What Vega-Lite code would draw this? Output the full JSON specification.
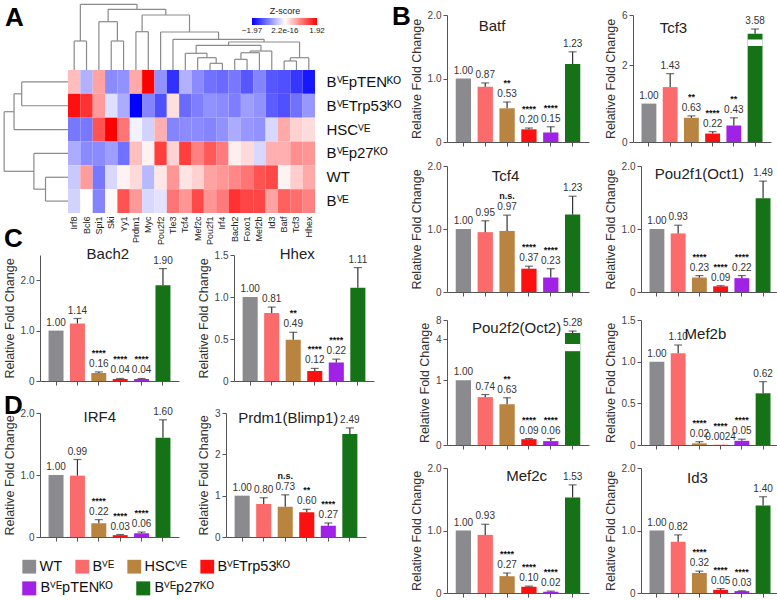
{
"$schema":"https://vega.github.io/schema/vega-lite/v6.json",
"padding":{"left":3,"top":3,"right":2,"bottom":2},
"spacing":-9,
"config":{"view":{"stroke":null},"font":"Liberation Sans",
"axis":{"grid":false,"labelFont":"Liberation Sans","titleFont":"Liberation Sans","labelFontSize":10,"labelColor":"#444","titleFontSize":12.5,"titleFontWeight":"normal","titleColor":"#333","domainColor":"#555","tickColor":"#555"},
"legend":{"labelFont":"Liberation Sans","titleFont":"Liberation Sans"},
"title":{"font":"Liberation Sans"},
"text":{"font":"Liberation Sans"}},
"datasets":{
"heat":[
{"s":"BⱽᴱpTENᴷᴼ","gene":"Irf8","z":0.5},{"s":"BⱽᴱpTENᴷᴼ","gene":"Bcl6","z":-0.6},{"s":"BⱽᴱpTENᴷᴼ","gene":"Spi1","z":0.7},{"s":"BⱽᴱpTENᴷᴼ","gene":"Ski","z":-0.9},{"s":"BⱽᴱpTENᴷᴼ","gene":"Yy1","z":-0.85},{"s":"BⱽᴱpTENᴷᴼ","gene":"Prdm1","z":0.65},{"s":"BⱽᴱpTENᴷᴼ","gene":"Myc","z":1.92},{"s":"BⱽᴱpTENᴷᴼ","gene":"Pou2f2","z":-0.85},{"s":"BⱽᴱpTENᴷᴼ","gene":"Tle3","z":-1.6},{"s":"BⱽᴱpTENᴷᴼ","gene":"Tcf4","z":-0.6},{"s":"BⱽᴱpTENᴷᴼ","gene":"Mef2c","z":-0.9},{"s":"BⱽᴱpTENᴷᴼ","gene":"Pou2f1","z":-1.1},{"s":"BⱽᴱpTENᴷᴼ","gene":"Irf4","z":-1.15},{"s":"BⱽᴱpTENᴷᴼ","gene":"Bach2","z":-1.05},{"s":"BⱽᴱpTENᴷᴼ","gene":"Foxo1","z":-1.3},{"s":"BⱽᴱpTENᴷᴼ","gene":"Mef2b","z":-0.95},{"s":"BⱽᴱpTENᴷᴼ","gene":"Id3","z":-1.3},{"s":"BⱽᴱpTENᴷᴼ","gene":"Batf","z":-1.35},{"s":"BⱽᴱpTENᴷᴼ","gene":"Tcf3","z":-1.55},{"s":"BⱽᴱpTENᴷᴼ","gene":"Hhex","z":-1.8},
{"s":"BⱽᴱTrp53ᴷᴼ","gene":"Irf8","z":1.8},{"s":"BⱽᴱTrp53ᴷᴼ","gene":"Bcl6","z":1.55},{"s":"BⱽᴱTrp53ᴷᴼ","gene":"Spi1","z":0.75},{"s":"BⱽᴱTrp53ᴷᴼ","gene":"Ski","z":-0.25},{"s":"BⱽᴱTrp53ᴷᴼ","gene":"Yy1","z":-0.65},{"s":"BⱽᴱTrp53ᴷᴼ","gene":"Prdm1","z":-1.97},{"s":"BⱽᴱTrp53ᴷᴼ","gene":"Myc","z":-0.95},{"s":"BⱽᴱTrp53ᴷᴼ","gene":"Pou2f2","z":-1.35},{"s":"BⱽᴱTrp53ᴷᴼ","gene":"Tle3","z":0.25},{"s":"BⱽᴱTrp53ᴷᴼ","gene":"Tcf4","z":-1.15},{"s":"BⱽᴱTrp53ᴷᴼ","gene":"Mef2c","z":-1.0},{"s":"BⱽᴱTrp53ᴷᴼ","gene":"Pou2f1","z":-0.85},{"s":"BⱽᴱTrp53ᴷᴼ","gene":"Irf4","z":-0.9},{"s":"BⱽᴱTrp53ᴷᴼ","gene":"Bach2","z":-1.0},{"s":"BⱽᴱTrp53ᴷᴼ","gene":"Foxo1","z":-0.75},{"s":"BⱽᴱTrp53ᴷᴼ","gene":"Mef2b","z":-0.85},{"s":"BⱽᴱTrp53ᴷᴼ","gene":"Id3","z":-1.25},{"s":"BⱽᴱTrp53ᴷᴼ","gene":"Batf","z":-1.35},{"s":"BⱽᴱTrp53ᴷᴼ","gene":"Tcf3","z":-1.1},{"s":"BⱽᴱTrp53ᴷᴼ","gene":"Hhex","z":-0.8},
{"s":"HSCⱽᴱ","gene":"Irf8","z":-1.05},{"s":"HSCⱽᴱ","gene":"Bcl6","z":-1.05},{"s":"HSCⱽᴱ","gene":"Spi1","z":1.3},{"s":"HSCⱽᴱ","gene":"Ski","z":1.92},{"s":"HSCⱽᴱ","gene":"Yy1","z":1.05},{"s":"HSCⱽᴱ","gene":"Prdm1","z":-0.1},{"s":"HSCⱽᴱ","gene":"Myc","z":-0.35},{"s":"HSCⱽᴱ","gene":"Pou2f2","z":0.6},{"s":"HSCⱽᴱ","gene":"Tle3","z":-0.95},{"s":"HSCⱽᴱ","gene":"Tcf4","z":-0.9},{"s":"HSCⱽᴱ","gene":"Mef2c","z":-0.9},{"s":"HSCⱽᴱ","gene":"Pou2f1","z":-0.95},{"s":"HSCⱽᴱ","gene":"Irf4","z":-0.85},{"s":"HSCⱽᴱ","gene":"Bach2","z":-0.65},{"s":"HSCⱽᴱ","gene":"Foxo1","z":-0.8},{"s":"HSCⱽᴱ","gene":"Mef2b","z":-0.85},{"s":"HSCⱽᴱ","gene":"Id3","z":-0.3},{"s":"HSCⱽᴱ","gene":"Batf","z":0.65},{"s":"HSCⱽᴱ","gene":"Tcf3","z":0.35},{"s":"HSCⱽᴱ","gene":"Hhex","z":0.26},
{"s":"Bⱽᴱp27ᴷᴼ","gene":"Irf8","z":-0.65},{"s":"Bⱽᴱp27ᴷᴼ","gene":"Bcl6","z":-0.9},{"s":"Bⱽᴱp27ᴷᴼ","gene":"Spi1","z":-0.9},{"s":"Bⱽᴱp27ᴷᴼ","gene":"Ski","z":-0.75},{"s":"Bⱽᴱp27ᴷᴼ","gene":"Yy1","z":-1.1},{"s":"Bⱽᴱp27ᴷᴼ","gene":"Prdm1","z":0.48},{"s":"Bⱽᴱp27ᴷᴼ","gene":"Myc","z":0.1},{"s":"Bⱽᴱp27ᴷᴼ","gene":"Pou2f2","z":1.45},{"s":"Bⱽᴱp27ᴷᴼ","gene":"Tle3","z":0.35},{"s":"Bⱽᴱp27ᴷᴼ","gene":"Tcf4","z":1.45},{"s":"Bⱽᴱp27ᴷᴼ","gene":"Mef2c","z":0.95},{"s":"Bⱽᴱp27ᴷᴼ","gene":"Pou2f1","z":1.25},{"s":"Bⱽᴱp27ᴷᴼ","gene":"Irf4","z":1.0},{"s":"Bⱽᴱp27ᴷᴼ","gene":"Bach2","z":0.13},{"s":"Bⱽᴱp27ᴷᴼ","gene":"Foxo1","z":0.28},{"s":"Bⱽᴱp27ᴷᴼ","gene":"Mef2b","z":-0.3},{"s":"Bⱽᴱp27ᴷᴼ","gene":"Id3","z":0.6},{"s":"Bⱽᴱp27ᴷᴼ","gene":"Batf","z":0.6},{"s":"Bⱽᴱp27ᴷᴼ","gene":"Tcf3","z":0.85},{"s":"Bⱽᴱp27ᴷᴼ","gene":"Hhex","z":0.8},
{"s":"WT","gene":"Irf8","z":-0.42},{"s":"WT","gene":"Bcl6","z":0.75},{"s":"WT","gene":"Spi1","z":-1.05},{"s":"WT","gene":"Ski","z":-0.3},{"s":"WT","gene":"Yy1","z":0.1},{"s":"WT","gene":"Prdm1","z":0.28},{"s":"WT","gene":"Myc","z":-0.55},{"s":"WT","gene":"Pou2f2","z":0.18},{"s":"WT","gene":"Tle3","z":0.8},{"s":"WT","gene":"Tcf4","z":0.2},{"s":"WT","gene":"Mef2c","z":0.35},{"s":"WT","gene":"Pou2f1","z":0.7},{"s":"WT","gene":"Irf4","z":0.78},{"s":"WT","gene":"Bach2","z":0.9},{"s":"WT","gene":"Foxo1","z":1.05},{"s":"WT","gene":"Mef2b","z":1.3},{"s":"WT","gene":"Id3","z":1.37},{"s":"WT","gene":"Batf","z":0.1},{"s":"WT","gene":"Tcf3","z":0.38},{"s":"WT","gene":"Hhex","z":0.65},
{"s":"Bⱽᴱ","gene":"Irf8","z":-0.35},{"s":"Bⱽᴱ","gene":"Bcl6","z":0.0},{"s":"Bⱽᴱ","gene":"Spi1","z":-0.95},{"s":"Bⱽᴱ","gene":"Ski","z":0.05},{"s":"Bⱽᴱ","gene":"Yy1","z":1.3},{"s":"Bⱽᴱ","gene":"Prdm1","z":0.77},{"s":"Bⱽᴱ","gene":"Myc","z":-0.3},{"s":"Bⱽᴱ","gene":"Pou2f2","z":-0.22},{"s":"Bⱽᴱ","gene":"Tle3","z":1.05},{"s":"Bⱽᴱ","gene":"Tcf4","z":0.8},{"s":"Bⱽᴱ","gene":"Mef2c","z":1.37},{"s":"Bⱽᴱ","gene":"Pou2f1","z":0.8},{"s":"Bⱽᴱ","gene":"Irf4","z":1.0},{"s":"Bⱽᴱ","gene":"Bach2","z":1.55},{"s":"Bⱽᴱ","gene":"Foxo1","z":1.4},{"s":"Bⱽᴱ","gene":"Mef2b","z":1.4},{"s":"Bⱽᴱ","gene":"Id3","z":0.7},{"s":"Bⱽᴱ","gene":"Batf","z":1.2},{"s":"Bⱽᴱ","gene":"Tcf3","z":1.1},{"s":"Bⱽᴱ","gene":"Hhex","z":0.95}
],
"topd":[
{"xl":0.5,"yl":0,"xr":1.5,"yr":0,"h":-1.217},
{"xl":3.5,"yl":0,"xr":4.5,"yr":0,"h":-1.217},
{"xl":2.5,"yl":0,"xr":4.0,"yr":-1.217,"h":-2.027},
{"xl":5.5,"yl":0,"xr":6.5,"yr":0,"h":-1.607},
{"xl":11.5,"yl":0,"xr":12.5,"yr":0,"h":-0.281},
{"xl":10.5,"yl":0,"xr":12.0,"yr":-0.281,"h":-0.516},
{"xl":9.5,"yl":0,"xr":11.25,"yr":-0.516,"h":-0.701},
{"xl":13.5,"yl":0,"xr":14.5,"yr":0,"h":-0.449},
{"xl":14.0,"yl":-0.449,"xr":15.5,"yr":0,"h":-0.726},
{"xl":14.75,"yl":-0.726,"xr":16.5,"yr":0,"h":-0.797},
{"xl":10.375,"yl":-0.701,"xr":15.625,"yr":-0.797,"h":-1.036},
{"xl":17.5,"yl":0,"xr":18.5,"yr":0,"h":-0.378},
{"xl":18.0,"yl":-0.378,"xr":19.5,"yr":0,"h":-0.516},
{"xl":13.0,"yl":-1.036,"xr":18.75,"yr":-0.516,"h":-1.175},
{"xl":8.5,"yl":0,"xr":15.875,"yr":-1.175,"h":-1.288},
{"xl":7.5,"yl":0,"xr":12.19,"yr":-1.288,"h":-1.595},
{"xl":6.0,"yl":-1.607,"xr":9.84,"yr":-1.595,"h":-2.308},
{"xl":3.25,"yl":-2.027,"xr":7.92,"yr":-2.308,"h":-2.547},
{"xl":1.0,"yl":-1.217,"xr":5.585,"yr":-2.547,"h":-2.757}
],
"leftd":[
{"ya":0.5,"da":0,"yb":1.5,"db":0,"d":-3.75},
{"ya":1.0,"da":-3.75,"yb":2.5,"db":0,"d":-4.37},
{"ya":4.5,"da":0,"yb":5.5,"db":0,"d":-1.82},
{"ya":3.5,"da":0,"yb":5.0,"db":-1.82,"d":-2.76},
{"ya":1.75,"da":-4.37,"yb":4.25,"db":-2.76,"d":-5.17}
],
"bars":[
{"gene":"Batf","g":"WT","v":1,"hi":1,"lab":"1.00","sig":""},
{"gene":"Batf","g":"Bⱽᴱ","v":0.87,"hi":0.93,"lab":"0.87","sig":""},
{"gene":"Batf","g":"HSCⱽᴱ","v":0.53,"hi":0.63,"lab":"0.53","sig":"**"},
{"gene":"Batf","g":"BⱽᴱTrp53ᴷᴼ","v":0.2,"hi":0.22,"lab":"0.20","sig":"****"},
{"gene":"Batf","g":"BⱽᴱpTENᴷᴼ","v":0.15,"hi":0.24,"lab":"0.15","sig":"****"},
{"gene":"Batf","g":"Bⱽᴱp27ᴷᴼ","v":1.23,"hi":1.42,"lab":"1.23","sig":""},
{"gene":"Tcf3","g":"WT","v":1,"hi":1,"lab":"1.00","sig":""},
{"gene":"Tcf3","g":"Bⱽᴱ","v":1.43,"hi":1.78,"lab":"1.43","sig":""},
{"gene":"Tcf3","g":"HSCⱽᴱ","v":0.63,"hi":0.68,"lab":"0.63","sig":"**"},
{"gene":"Tcf3","g":"BⱽᴱTrp53ᴷᴼ","v":0.22,"hi":0.27,"lab":"0.22","sig":"****"},
{"gene":"Tcf3","g":"BⱽᴱpTENᴷᴼ","v":0.43,"hi":0.63,"lab":"0.43","sig":"**"},
{"gene":"Tcf3","g":"Bⱽᴱp27ᴷᴼ","v":3.58,"hi":4.2,"lab":"3.58","sig":""},
{"gene":"Tcf4","g":"WT","v":1,"hi":1,"lab":"1.00","sig":""},
{"gene":"Tcf4","g":"Bⱽᴱ","v":0.95,"hi":1.13,"lab":"0.95","sig":""},
{"gene":"Tcf4","g":"HSCⱽᴱ","v":0.97,"hi":1.22,"lab":"0.97","sig":"n.s."},
{"gene":"Tcf4","g":"BⱽᴱTrp53ᴷᴼ","v":0.37,"hi":0.41,"lab":"0.37","sig":"****"},
{"gene":"Tcf4","g":"BⱽᴱpTENᴷᴼ","v":0.23,"hi":0.37,"lab":"0.23","sig":"****"},
{"gene":"Tcf4","g":"Bⱽᴱp27ᴷᴼ","v":1.23,"hi":1.52,"lab":"1.23","sig":""},
{"gene":"Pou2f1","g":"WT","v":1,"hi":1,"lab":"1.00","sig":""},
{"gene":"Pou2f1","g":"Bⱽᴱ","v":0.93,"hi":1.06,"lab":"0.93","sig":""},
{"gene":"Pou2f1","g":"HSCⱽᴱ","v":0.23,"hi":0.26,"lab":"0.23","sig":"****"},
{"gene":"Pou2f1","g":"BⱽᴱTrp53ᴷᴼ","v":0.09,"hi":0.1,"lab":"0.09","sig":"****"},
{"gene":"Pou2f1","g":"BⱽᴱpTENᴷᴼ","v":0.22,"hi":0.26,"lab":"0.22","sig":"****"},
{"gene":"Pou2f1","g":"Bⱽᴱp27ᴷᴼ","v":1.49,"hi":1.76,"lab":"1.49","sig":""},
{"gene":"Pou2f2","g":"WT","v":1,"hi":1,"lab":"1.00","sig":""},
{"gene":"Pou2f2","g":"Bⱽᴱ","v":0.74,"hi":0.78,"lab":"0.74","sig":""},
{"gene":"Pou2f2","g":"HSCⱽᴱ","v":0.63,"hi":0.73,"lab":"0.63","sig":"**"},
{"gene":"Pou2f2","g":"BⱽᴱTrp53ᴷᴼ","v":0.09,"hi":0.1,"lab":"0.09","sig":"****"},
{"gene":"Pou2f2","g":"BⱽᴱpTENᴷᴼ","v":0.06,"hi":0.1,"lab":"0.06","sig":"****"},
{"gene":"Pou2f2","g":"Bⱽᴱp27ᴷᴼ","v":5.28,"hi":5.7,"lab":"5.28","sig":""},
{"gene":"Mef2b","g":"WT","v":1,"hi":1,"lab":"1.00","sig":""},
{"gene":"Mef2b","g":"Bⱽᴱ","v":1.1,"hi":1.2,"lab":"1.10","sig":""},
{"gene":"Mef2b","g":"HSCⱽᴱ","v":0.02,"hi":0.04,"lab":"0.02","sig":"****"},
{"gene":"Mef2b","g":"BⱽᴱTrp53ᴷᴼ","v":0.0024,"hi":0.0024,"lab":"0.0024","sig":"****"},
{"gene":"Mef2b","g":"BⱽᴱpTENᴷᴼ","v":0.05,"hi":0.07,"lab":"0.05","sig":"****"},
{"gene":"Mef2b","g":"Bⱽᴱp27ᴷᴼ","v":0.62,"hi":0.76,"lab":"0.62","sig":""},
{"gene":"Mef2c","g":"WT","v":1,"hi":1,"lab":"1.00","sig":""},
{"gene":"Mef2c","g":"Bⱽᴱ","v":0.93,"hi":1.1,"lab":"0.93","sig":""},
{"gene":"Mef2c","g":"HSCⱽᴱ","v":0.27,"hi":0.32,"lab":"0.27","sig":"****"},
{"gene":"Mef2c","g":"BⱽᴱTrp53ᴷᴼ","v":0.1,"hi":0.11,"lab":"0.10","sig":"****"},
{"gene":"Mef2c","g":"BⱽᴱpTENᴷᴼ","v":0.02,"hi":0.03,"lab":"0.02","sig":"****"},
{"gene":"Mef2c","g":"Bⱽᴱp27ᴷᴼ","v":1.53,"hi":1.73,"lab":"1.53","sig":""},
{"gene":"Id3","g":"WT","v":1,"hi":1,"lab":"1.00","sig":""},
{"gene":"Id3","g":"Bⱽᴱ","v":0.82,"hi":0.93,"lab":"0.82","sig":""},
{"gene":"Id3","g":"HSCⱽᴱ","v":0.32,"hi":0.35,"lab":"0.32","sig":"****"},
{"gene":"Id3","g":"BⱽᴱTrp53ᴷᴼ","v":0.05,"hi":0.07,"lab":"0.05","sig":"****"},
{"gene":"Id3","g":"BⱽᴱpTENᴷᴼ","v":0.03,"hi":0.035,"lab":"0.03","sig":"****"},
{"gene":"Id3","g":"Bⱽᴱp27ᴷᴼ","v":1.4,"hi":1.54,"lab":"1.40","sig":""},
{"gene":"Bach2","g":"WT","v":1,"hi":1,"lab":"1.00","sig":""},
{"gene":"Bach2","g":"Bⱽᴱ","v":1.14,"hi":1.24,"lab":"1.14","sig":""},
{"gene":"Bach2","g":"HSCⱽᴱ","v":0.16,"hi":0.18,"lab":"0.16","sig":"****"},
{"gene":"Bach2","g":"BⱽᴱTrp53ᴷᴼ","v":0.04,"hi":0.05,"lab":"0.04","sig":"****"},
{"gene":"Bach2","g":"BⱽᴱpTENᴷᴼ","v":0.04,"hi":0.05,"lab":"0.04","sig":"****"},
{"gene":"Bach2","g":"Bⱽᴱp27ᴷᴼ","v":1.9,"hi":2.23,"lab":"1.90","sig":""},
{"gene":"Hhex","g":"WT","v":1,"hi":1,"lab":"1.00","sig":""},
{"gene":"Hhex","g":"Bⱽᴱ","v":0.81,"hi":0.88,"lab":"0.81","sig":""},
{"gene":"Hhex","g":"HSCⱽᴱ","v":0.49,"hi":0.58,"lab":"0.49","sig":"**"},
{"gene":"Hhex","g":"BⱽᴱTrp53ᴷᴼ","v":0.12,"hi":0.15,"lab":"0.12","sig":"****"},
{"gene":"Hhex","g":"BⱽᴱpTENᴷᴼ","v":0.22,"hi":0.26,"lab":"0.22","sig":"****"},
{"gene":"Hhex","g":"Bⱽᴱp27ᴷᴼ","v":1.11,"hi":1.35,"lab":"1.11","sig":""},
{"gene":"IRF4","g":"WT","v":1,"hi":1,"lab":"1.00","sig":""},
{"gene":"IRF4","g":"Bⱽᴱ","v":0.99,"hi":1.25,"lab":"0.99","sig":""},
{"gene":"IRF4","g":"HSCⱽᴱ","v":0.22,"hi":0.28,"lab":"0.22","sig":"****"},
{"gene":"IRF4","g":"BⱽᴱTrp53ᴷᴼ","v":0.03,"hi":0.04,"lab":"0.03","sig":"****"},
{"gene":"IRF4","g":"BⱽᴱpTENᴷᴼ","v":0.06,"hi":0.08,"lab":"0.06","sig":"****"},
{"gene":"IRF4","g":"Bⱽᴱp27ᴷᴼ","v":1.6,"hi":1.89,"lab":"1.60","sig":""},
{"gene":"Prdm1","g":"WT","v":1,"hi":1,"lab":"1.00","sig":""},
{"gene":"Prdm1","g":"Bⱽᴱ","v":0.8,"hi":0.95,"lab":"0.80","sig":""},
{"gene":"Prdm1","g":"HSCⱽᴱ","v":0.73,"hi":1.02,"lab":"0.73","sig":"n.s."},
{"gene":"Prdm1","g":"BⱽᴱTrp53ᴷᴼ","v":0.6,"hi":0.67,"lab":"0.60","sig":"**"},
{"gene":"Prdm1","g":"BⱽᴱpTENᴷᴼ","v":0.27,"hi":0.34,"lab":"0.27","sig":"****"},
{"gene":"Prdm1","g":"Bⱽᴱp27ᴷᴼ","v":2.49,"hi":2.64,"lab":"2.49","sig":""}
]
},
"hconcat":[
{"vconcat":[
 {"width":278,"height":198,
  "title":{"text":"A","anchor":"start","frame":"group","fontSize":26,"fontWeight":"bold","color":"#000","offset":-27,"dx":-35},
  "layer":[
   {"data":{"name":"heat"},"mark":{"type":"rect"},
    "encoding":{
     "x":{"field":"gene","type":"nominal","scale":{"domain":["Irf8","Bcl6","Spi1","Ski","Yy1","Prdm1","Myc","Pou2f2","Tle3","Tcf4","Mef2c","Pou2f1","Irf4","Bach2","Foxo1","Mef2b","Id3","Batf","Tcf3","Hhex"],"range":[28,275],"paddingInner":0,"paddingOuter":0},"axis":{"title":null,"labelAngle":-90,"labelFontSize":9,"labelColor":"#222","ticks":false,"domain":false,"labelPadding":3}},
     "y":{"field":"s","type":"nominal","scale":{"domain":["BⱽᴱpTENᴷᴼ","BⱽᴱTrp53ᴷᴼ","HSCⱽᴱ","Bⱽᴱp27ᴷᴼ","WT","Bⱽᴱ"],"range":[55,198],"paddingInner":0,"paddingOuter":0},"axis":{"orient":"right","title":null,"labelFontSize":15,"labelColor":"#111","ticks":false,"domain":false,"labelPadding":8}},
     "fill":{"field":"z","type":"quantitative","scale":{"domain":[-1.97,0,1.92],"range":["#0000ff","#ffffff","#ff0000"],"interpolate":"rgb"},
      "legend":{"orient":"none","legendX":212,"legendY":-8,"direction":"horizontal","title":"Z-score","titleFontSize":9,"titleFontWeight":"normal","titleAnchor":"middle","titleColor":"#222","titlePadding":2,"gradientLength":65,"gradientThickness":7,"gradientStrokeWidth":0,"values":[-1.97,0,1.92],"labelExpr":"datum.value==0?'2.2e-16':format(datum.value,'.2f')","labelFontSize":8,"labelColor":"#222","labelOverlap":false,"labelOffset":2,"encode":{"labels":{"update":{"align":{"value":"center"}}}}}}}},
   {"layer":[
     {"data":{"name":"topd"},"mark":{"type":"rule","color":"#8a8a8a","strokeWidth":1.2},"encoding":{"x":{"field":"xl","type":"quantitative","scale":{"domain":[0,20],"range":[28,275],"nice":false,"zero":false},"axis":null},"x2":{"field":"xr"},"y":{"field":"h","type":"quantitative","scale":{"domain":[0,6],"range":[55,198],"nice":false,"zero":false},"axis":null}}},
     {"data":{"name":"topd"},"mark":{"type":"rule","color":"#8a8a8a","strokeWidth":1.2},"encoding":{"x":{"field":"xl","type":"quantitative","axis":null},"y":{"field":"yl","type":"quantitative","axis":null},"y2":{"field":"h"}}},
     {"data":{"name":"topd"},"mark":{"type":"rule","color":"#8a8a8a","strokeWidth":1.2},"encoding":{"x":{"field":"xr","type":"quantitative","axis":null},"y":{"field":"yr","type":"quantitative","axis":null},"y2":{"field":"h"}}},
     {"data":{"name":"leftd"},"mark":{"type":"rule","color":"#8a8a8a","strokeWidth":1.2},"encoding":{"x":{"field":"d","type":"quantitative","axis":null},"y":{"field":"ya","type":"quantitative","axis":null},"y2":{"field":"yb"}}},
     {"data":{"name":"leftd"},"mark":{"type":"rule","color":"#8a8a8a","strokeWidth":1.2},"encoding":{"x":{"field":"da","type":"quantitative","axis":null},"x2":{"field":"d"},"y":{"field":"ya","type":"quantitative","axis":null}}},
     {"data":{"name":"leftd"},"mark":{"type":"rule","color":"#8a8a8a","strokeWidth":1.2},"encoding":{"x":{"field":"db","type":"quantitative","axis":null},"x2":{"field":"d"},"y":{"field":"yb","type":"quantitative","axis":null}}}
   ]}
  ],
  "resolve":{"scale":{"x":"independent","y":"independent"},"axis":{"x":"independent","y":"independent"}}
 },
 {"vconcat":[
  {"title":{"text":"C","anchor":"start","frame":"group","fontSize":26,"fontWeight":"bold","color":"#000","offset":-7,"dx":-36},
   "hconcat":[
   {"width":139,"height":126,"data":{"name":"bars"},"transform":[{"filter":"datum.gene=='Bach2'"}],
    "encoding":{"x":{"field":"g","type":"nominal","scale":{"domain":["WT","Bⱽᴱ","HSCⱽᴱ","BⱽᴱTrp53ᴷᴼ","BⱽᴱpTENᴷᴼ","Bⱽᴱp27ᴷᴼ"],"paddingInner":0.3,"paddingOuter":0.4},"axis":{"labels":false,"title":null,"tickSize":4}}},
    "layer":[
     {"mark":"bar","encoding":{"y":{"field":"v","type":"quantitative","scale":{"domain":[0,2.5],"nice":false},"axis":{"values":[0,0.5,1,1.5,2,2.5],"labelExpr":"datum.value==0?'0':format(datum.value,'.1f')","title":"Relative Fold Change","tickSize":4}},"color":{"field":"g","type":"nominal","scale":{"domain":["WT","Bⱽᴱ","HSCⱽᴱ","BⱽᴱTrp53ᴷᴼ","BⱽᴱpTENᴷᴼ","Bⱽᴱp27ᴷᴼ"],"range":["#8b8b8f","#fb6b6b","#b8843f","#fc1010","#a022e6","#167216"]}}}},
     {"transform":[{"filter":"datum.hi>datum.v"}],"mark":{"type":"rule","color":"#333","strokeWidth":1.2},"encoding":{"y":{"field":"v","type":"quantitative"},"y2":{"field":"hi"}}},
     {"transform":[{"filter":"datum.hi>datum.v"}],"mark":{"type":"tick","color":"#333","size":8,"thickness":1.2},"encoding":{"y":{"field":"hi","type":"quantitative"}}},
     {"mark":{"type":"text","baseline":"bottom","dy":-3,"fontSize":10,"color":"#333"},"encoding":{"y":{"field":"hi","type":"quantitative"},"text":{"field":"lab"}}},
     {"mark":{"type":"text","baseline":"bottom","dy":-14,"fontSize":9,"fontWeight":"bold","color":"#111"},"encoding":{"y":{"field":"hi","type":"quantitative"},"text":{"field":"sig"}}},
     {"transform":[{"filter":"datum.g=='WT'"}],"mark":{"type":"text","text":"Bach2","fontSize":15,"color":"#222","baseline":"middle","dx":9},"encoding":{"x":{"datum":"HSCⱽᴱ"},"y":{"datum":2.52}}}
    ]},
   {"width":140,"height":126,"data":{"name":"bars"},"transform":[{"filter":"datum.gene=='Hhex'"}],
    "encoding":{"x":{"field":"g","type":"nominal","scale":{"domain":["WT","Bⱽᴱ","HSCⱽᴱ","BⱽᴱTrp53ᴷᴼ","BⱽᴱpTENᴷᴼ","Bⱽᴱp27ᴷᴼ"],"paddingInner":0.3,"paddingOuter":0.4},"axis":{"labels":false,"title":null,"tickSize":4}}},
    "layer":[
     {"mark":"bar","encoding":{"y":{"field":"v","type":"quantitative","scale":{"domain":[0,1.5],"nice":false},"axis":{"values":[0,0.5,1,1.5],"labelExpr":"datum.value==0?'0':format(datum.value,'.1f')","title":"Relative Fold Change","tickSize":4}},"color":{"field":"g","type":"nominal","scale":{"domain":["WT","Bⱽᴱ","HSCⱽᴱ","BⱽᴱTrp53ᴷᴼ","BⱽᴱpTENᴷᴼ","Bⱽᴱp27ᴷᴼ"],"range":["#8b8b8f","#fb6b6b","#b8843f","#fc1010","#a022e6","#167216"]}}}},
     {"transform":[{"filter":"datum.hi>datum.v"}],"mark":{"type":"rule","color":"#333","strokeWidth":1.2},"encoding":{"y":{"field":"v","type":"quantitative"},"y2":{"field":"hi"}}},
     {"transform":[{"filter":"datum.hi>datum.v"}],"mark":{"type":"tick","color":"#333","size":8,"thickness":1.2},"encoding":{"y":{"field":"hi","type":"quantitative"}}},
     {"mark":{"type":"text","baseline":"bottom","dy":-3,"fontSize":10,"color":"#333"},"encoding":{"y":{"field":"hi","type":"quantitative"},"text":{"field":"lab"}}},
     {"mark":{"type":"text","baseline":"bottom","dy":-14,"fontSize":9,"fontWeight":"bold","color":"#111"},"encoding":{"y":{"field":"hi","type":"quantitative"},"text":{"field":"sig"}}},
     {"transform":[{"filter":"datum.g=='WT'"}],"mark":{"type":"text","text":"Hhex","fontSize":15,"color":"#222","baseline":"middle","dx":4},"encoding":{"x":{"datum":"HSCⱽᴱ"},"y":{"datum":1.51}}}
    ]}
   ],"spacing":18},
  {"title":{"text":"D","anchor":"start","frame":"group","fontSize":26,"fontWeight":"bold","color":"#000","offset":-22,"dx":-36},
   "hconcat":[
   {"width":139,"height":124,"data":{"name":"bars"},"transform":[{"filter":"datum.gene=='IRF4'"}],
    "encoding":{"x":{"field":"g","type":"nominal","scale":{"domain":["WT","Bⱽᴱ","HSCⱽᴱ","BⱽᴱTrp53ᴷᴼ","BⱽᴱpTENᴷᴼ","Bⱽᴱp27ᴷᴼ"],"paddingInner":0.3,"paddingOuter":0.4},"axis":{"labels":false,"title":null,"tickSize":4}}},
    "layer":[
     {"mark":{"type":"bar","strokeWidth":0},"encoding":{"y":{"field":"v","type":"quantitative","scale":{"domain":[0,2],"nice":false},"axis":{"values":[0,0.5,1,1.5,2],"labelExpr":"datum.value==0?'0':format(datum.value,'.1f')","title":"Relative Fold Change","tickSize":4}},
       "color":{"field":"g","type":"nominal","scale":{"domain":["WT","Bⱽᴱ","HSCⱽᴱ","BⱽᴱTrp53ᴷᴼ","BⱽᴱpTENᴷᴼ","Bⱽᴱp27ᴷᴼ"],"range":["#8b8b8f","#fb6b6b","#b8843f","#fc1010","#a022e6","#167216"]},
       "legend":{"orient":"none","legendX":-18,"legendY":544,"direction":"horizontal","title":null,"values":["WT","Bⱽᴱ","HSCⱽᴱ","BⱽᴱTrp53ᴷᴼ"],"symbolType":"square","symbolSize":190,"symbolStrokeWidth":0,"labelFontSize":14.5,"labelColor":"#111","columnPadding":12,"labelOffset":3}},
       "stroke":{"field":"g","type":"nominal","scale":{"domain":["BⱽᴱpTENᴷᴼ","Bⱽᴱp27ᴷᴼ"],"range":["#a022e6","#167216"]},
       "legend":{"orient":"none","legendX":-18,"legendY":566,"direction":"horizontal","title":null,"symbolType":"square","symbolSize":49,"symbolStrokeWidth":7,"symbolOpacity":1,"labelFontSize":14.5,"labelColor":"#111","columnPadding":12,"labelOffset":4}}}},
     {"transform":[{"filter":"datum.hi>datum.v"}],"mark":{"type":"rule","color":"#333","strokeWidth":1.2},"encoding":{"y":{"field":"v","type":"quantitative"},"y2":{"field":"hi"}}},
     {"transform":[{"filter":"datum.hi>datum.v"}],"mark":{"type":"tick","color":"#333","size":8,"thickness":1.2},"encoding":{"y":{"field":"hi","type":"quantitative"}}},
     {"mark":{"type":"text","baseline":"bottom","dy":-3,"fontSize":10,"color":"#333"},"encoding":{"y":{"field":"hi","type":"quantitative"},"text":{"field":"lab"}}},
     {"mark":{"type":"text","baseline":"bottom","dy":-14,"fontSize":9,"fontWeight":"bold","color":"#111"},"encoding":{"y":{"field":"hi","type":"quantitative"},"text":{"field":"sig"}}},
     {"transform":[{"filter":"datum.g=='WT'"}],"mark":{"type":"text","text":"IRF4","fontSize":15,"color":"#222","baseline":"middle","dx":1},"encoding":{"x":{"datum":"HSCⱽᴱ"},"y":{"datum":1.935}}}
    ]},
   {"width":140,"height":124,"data":{"name":"bars"},"transform":[{"filter":"datum.gene=='Prdm1'"}],
    "encoding":{"x":{"field":"g","type":"nominal","scale":{"domain":["WT","Bⱽᴱ","HSCⱽᴱ","BⱽᴱTrp53ᴷᴼ","BⱽᴱpTENᴷᴼ","Bⱽᴱp27ᴷᴼ"],"paddingInner":0.3,"paddingOuter":0.4},"axis":{"labels":false,"title":null,"tickSize":4}}},
    "layer":[
     {"mark":"bar","encoding":{"y":{"field":"v","type":"quantitative","scale":{"domain":[0,3],"nice":false},"axis":{"values":[0,1,2,3],"title":"Relative Fold Change","tickSize":4}},"color":{"field":"g","type":"nominal","scale":{"domain":["WT","Bⱽᴱ","HSCⱽᴱ","BⱽᴱTrp53ᴷᴼ","BⱽᴱpTENᴷᴼ","Bⱽᴱp27ᴷᴼ"],"range":["#8b8b8f","#fb6b6b","#b8843f","#fc1010","#a022e6","#167216"]}}}},
     {"transform":[{"filter":"datum.hi>datum.v"}],"mark":{"type":"rule","color":"#333","strokeWidth":1.2},"encoding":{"y":{"field":"v","type":"quantitative"},"y2":{"field":"hi"}}},
     {"transform":[{"filter":"datum.hi>datum.v"}],"mark":{"type":"tick","color":"#333","size":8,"thickness":1.2},"encoding":{"y":{"field":"hi","type":"quantitative"}}},
     {"mark":{"type":"text","baseline":"bottom","dy":-3,"fontSize":10,"color":"#333"},"encoding":{"y":{"field":"hi","type":"quantitative"},"text":{"field":"lab"}}},
     {"mark":{"type":"text","baseline":"bottom","dy":-14,"fontSize":9,"fontWeight":"bold","color":"#111"},"encoding":{"y":{"field":"hi","type":"quantitative"},"text":{"field":"sig"}}},
     {"transform":[{"filter":"datum.g=='WT'"}],"mark":{"type":"text","text":"Prdm1(Blimp1)","fontSize":15,"color":"#222","baseline":"middle","dx":3},"encoding":{"x":{"datum":"HSCⱽᴱ"},"y":{"datum":2.89}}}
    ]}
   ],"spacing":18}
 ],"spacing":6}
],"spacing":-20},
{"title":{"text":"B","anchor":"start","frame":"group","fontSize":26,"fontWeight":"bold","color":"#000","offset":-24,"dx":-55},
 "vconcat":[
 {"hconcat":[
   {"width":142,"height":127,"data":{"name":"bars"},"transform":[{"filter":"datum.gene=='Batf'"}],
    "encoding":{"x":{"field":"g","type":"nominal","scale":{"domain":["WT","Bⱽᴱ","HSCⱽᴱ","BⱽᴱTrp53ᴷᴼ","BⱽᴱpTENᴷᴼ","Bⱽᴱp27ᴷᴼ"],"paddingInner":0.3,"paddingOuter":0.4},"axis":{"labels":false,"title":null,"tickSize":4}}},
    "layer":[
     {"mark":"bar","encoding":{"y":{"field":"v","type":"quantitative","scale":{"domain":[0,2],"nice":false},"axis":{"values":[0,0.5,1,1.5,2],"labelExpr":"datum.value==0?'0':format(datum.value,'.1f')","title":"Relative Fold Change","tickSize":4}},"color":{"field":"g","type":"nominal","scale":{"domain":["WT","Bⱽᴱ","HSCⱽᴱ","BⱽᴱTrp53ᴷᴼ","BⱽᴱpTENᴷᴼ","Bⱽᴱp27ᴷᴼ"],"range":["#8b8b8f","#fb6b6b","#b8843f","#fc1010","#a022e6","#167216"]}}}},
     {"transform":[{"filter":"datum.hi>datum.v"}],"mark":{"type":"rule","color":"#333","strokeWidth":1.2},"encoding":{"y":{"field":"v","type":"quantitative"},"y2":{"field":"hi"}}},
     {"transform":[{"filter":"datum.hi>datum.v"}],"mark":{"type":"tick","color":"#333","size":8,"thickness":1.2},"encoding":{"y":{"field":"hi","type":"quantitative"}}},
     {"mark":{"type":"text","baseline":"bottom","dy":-3,"fontSize":10,"color":"#333"},"encoding":{"y":{"field":"hi","type":"quantitative"},"text":{"field":"lab"}}},
     {"mark":{"type":"text","baseline":"bottom","dy":-14,"fontSize":9,"fontWeight":"bold","color":"#111"},"encoding":{"y":{"field":"hi","type":"quantitative"},"text":{"field":"sig"}}},
     {"transform":[{"filter":"datum.g=='WT'"}],"mark":{"type":"text","text":"Batf","fontSize":15,"color":"#222","baseline":"middle","dx":-15},"encoding":{"x":{"datum":"HSCⱽᴱ"},"y":{"datum":1.83}}}
    ]},
   {"width":138,"height":127,"data":{"name":"bars"},"transform":[{"filter":"datum.gene=='Tcf3'"}],
    "encoding":{"x":{"field":"g","type":"nominal","scale":{"domain":["WT","Bⱽᴱ","HSCⱽᴱ","BⱽᴱTrp53ᴷᴼ","BⱽᴱpTENᴷᴼ","Bⱽᴱp27ᴷᴼ"],"paddingInner":0.3,"paddingOuter":0.4},"axis":{"labels":false,"title":null,"tickSize":4}}},
    "layer":[
     {"mark":"bar","encoding":{"y":{"field":"v","type":"quantitative","scale":{"domain":[0,2.5,2.85,6],"range":[127,31,24.5,0],"nice":false,"zero":false},"axis":{"values":[0,1,2,4,6],"title":"Relative Fold Change","tickSize":4}},"color":{"field":"g","type":"nominal","scale":{"domain":["WT","Bⱽᴱ","HSCⱽᴱ","BⱽᴱTrp53ᴷᴼ","BⱽᴱpTENᴷᴼ","Bⱽᴱp27ᴷᴼ"],"range":["#8b8b8f","#fb6b6b","#b8843f","#fc1010","#a022e6","#167216"]}}}},
     {"transform":[{"filter":"datum.hi>datum.v"}],"mark":{"type":"rule","color":"#333","strokeWidth":1.2},"encoding":{"y":{"field":"v","type":"quantitative"},"y2":{"field":"hi"}}},
     {"transform":[{"filter":"datum.hi>datum.v"}],"mark":{"type":"tick","color":"#333","size":8,"thickness":1.2},"encoding":{"y":{"field":"hi","type":"quantitative"}}},
     {"transform":[{"filter":"datum.v>2.5"}],"mark":{"type":"rect","color":"white"},"encoding":{"y":{"datum":2.5},"y2":{"datum":2.85}}},
     {"mark":{"type":"text","baseline":"bottom","dy":-3,"fontSize":10,"color":"#333"},"encoding":{"y":{"field":"hi","type":"quantitative"},"text":{"field":"lab"}}},
     {"mark":{"type":"text","baseline":"bottom","dy":-14,"fontSize":9,"fontWeight":"bold","color":"#111"},"encoding":{"y":{"field":"hi","type":"quantitative"},"text":{"field":"sig"}}},
     {"transform":[{"filter":"datum.g=='WT'"}],"mark":{"type":"text","text":"Tcf3","fontSize":15,"color":"#222","baseline":"middle","dx":-18},"encoding":{"x":{"datum":"HSCⱽᴱ"},"y":{"datum":4.33}}}
    ]}
 ],"spacing":15},
 {"hconcat":[
   {"width":142,"height":126,"data":{"name":"bars"},"transform":[{"filter":"datum.gene=='Tcf4'"}],
    "encoding":{"x":{"field":"g","type":"nominal","scale":{"domain":["WT","Bⱽᴱ","HSCⱽᴱ","BⱽᴱTrp53ᴷᴼ","BⱽᴱpTENᴷᴼ","Bⱽᴱp27ᴷᴼ"],"paddingInner":0.3,"paddingOuter":0.4},"axis":{"labels":false,"title":null,"tickSize":4}}},
    "layer":[
     {"mark":"bar","encoding":{"y":{"field":"v","type":"quantitative","scale":{"domain":[0,2],"nice":false},"axis":{"values":[0,0.5,1,1.5,2],"labelExpr":"datum.value==0?'0':format(datum.value,'.1f')","title":"Relative Fold Change","tickSize":4}},"color":{"field":"g","type":"nominal","scale":{"domain":["WT","Bⱽᴱ","HSCⱽᴱ","BⱽᴱTrp53ᴷᴼ","BⱽᴱpTENᴷᴼ","Bⱽᴱp27ᴷᴼ"],"range":["#8b8b8f","#fb6b6b","#b8843f","#fc1010","#a022e6","#167216"]}}}},
     {"transform":[{"filter":"datum.hi>datum.v"}],"mark":{"type":"rule","color":"#333","strokeWidth":1.2},"encoding":{"y":{"field":"v","type":"quantitative"},"y2":{"field":"hi"}}},
     {"transform":[{"filter":"datum.hi>datum.v"}],"mark":{"type":"tick","color":"#333","size":8,"thickness":1.2},"encoding":{"y":{"field":"hi","type":"quantitative"}}},
     {"mark":{"type":"text","baseline":"bottom","dy":-3,"fontSize":10,"color":"#333"},"encoding":{"y":{"field":"hi","type":"quantitative"},"text":{"field":"lab"}}},
     {"mark":{"type":"text","baseline":"bottom","dy":-14,"fontSize":9,"fontWeight":"bold","color":"#111"},"encoding":{"y":{"field":"hi","type":"quantitative"},"text":{"field":"sig"}}},
     {"transform":[{"filter":"datum.g=='WT'"}],"mark":{"type":"text","text":"Tcf4","fontSize":15,"color":"#222","baseline":"middle","dx":-1.5},"encoding":{"x":{"datum":"HSCⱽᴱ"},"y":{"datum":1.84}}}
    ]},
   {"width":138,"height":126,"data":{"name":"bars"},"transform":[{"filter":"datum.gene=='Pou2f1'"}],
    "encoding":{"x":{"field":"g","type":"nominal","scale":{"domain":["WT","Bⱽᴱ","HSCⱽᴱ","BⱽᴱTrp53ᴷᴼ","BⱽᴱpTENᴷᴼ","Bⱽᴱp27ᴷᴼ"],"paddingInner":0.3,"paddingOuter":0.4},"axis":{"labels":false,"title":null,"tickSize":4}}},
    "layer":[
     {"mark":"bar","encoding":{"y":{"field":"v","type":"quantitative","scale":{"domain":[0,2],"nice":false},"axis":{"values":[0,0.5,1,1.5,2],"labelExpr":"datum.value==0?'0':format(datum.value,'.1f')","title":"Relative Fold Change","tickSize":4}},"color":{"field":"g","type":"nominal","scale":{"domain":["WT","Bⱽᴱ","HSCⱽᴱ","BⱽᴱTrp53ᴷᴼ","BⱽᴱpTENᴷᴼ","Bⱽᴱp27ᴷᴼ"],"range":["#8b8b8f","#fb6b6b","#b8843f","#fc1010","#a022e6","#167216"]}}}},
     {"transform":[{"filter":"datum.hi>datum.v"}],"mark":{"type":"rule","color":"#333","strokeWidth":1.2},"encoding":{"y":{"field":"v","type":"quantitative"},"y2":{"field":"hi"}}},
     {"transform":[{"filter":"datum.hi>datum.v"}],"mark":{"type":"tick","color":"#333","size":8,"thickness":1.2},"encoding":{"y":{"field":"hi","type":"quantitative"}}},
     {"mark":{"type":"text","baseline":"bottom","dy":-3,"fontSize":10,"color":"#333"},"encoding":{"y":{"field":"hi","type":"quantitative"},"text":{"field":"lab"}}},
     {"mark":{"type":"text","baseline":"bottom","dy":-14,"fontSize":9,"fontWeight":"bold","color":"#111"},"encoding":{"y":{"field":"hi","type":"quantitative"},"text":{"field":"sig"}}},
     {"transform":[{"filter":"datum.g=='WT'"}],"mark":{"type":"text","text":"Pou2f1(Oct1)","fontSize":15,"color":"#222","baseline":"middle","dx":0},"encoding":{"x":{"datum":"HSCⱽᴱ"},"y":{"datum":1.87}}}
    ]}
 ],"spacing":15},
 {"hconcat":[
   {"width":142,"height":125,"data":{"name":"bars"},"transform":[{"filter":"datum.gene=='Pou2f2'"}],
    "encoding":{"x":{"field":"g","type":"nominal","scale":{"domain":["WT","Bⱽᴱ","HSCⱽᴱ","BⱽᴱTrp53ᴷᴼ","BⱽᴱpTENᴷᴼ","Bⱽᴱp27ᴷᴼ"],"paddingInner":0.3,"paddingOuter":0.4},"axis":{"labels":false,"title":null,"tickSize":4}}},
    "layer":[
     {"mark":"bar","encoding":{"y":{"field":"v","type":"quantitative","scale":{"domain":[0,1.45,3.0,8],"range":[125,31.2,24,0],"nice":false,"zero":false},"axis":{"values":[0,1,4,8],"title":"Relative Fold Change","tickSize":4}},"color":{"field":"g","type":"nominal","scale":{"domain":["WT","Bⱽᴱ","HSCⱽᴱ","BⱽᴱTrp53ᴷᴼ","BⱽᴱpTENᴷᴼ","Bⱽᴱp27ᴷᴼ"],"range":["#8b8b8f","#fb6b6b","#b8843f","#fc1010","#a022e6","#167216"]}}}},
     {"transform":[{"filter":"datum.hi>datum.v"}],"mark":{"type":"rule","color":"#333","strokeWidth":1.2},"encoding":{"y":{"field":"v","type":"quantitative"},"y2":{"field":"hi"}}},
     {"transform":[{"filter":"datum.hi>datum.v"}],"mark":{"type":"tick","color":"#333","size":8,"thickness":1.2},"encoding":{"y":{"field":"hi","type":"quantitative"}}},
     {"transform":[{"filter":"datum.v>1.45"}],"mark":{"type":"rect","color":"white"},"encoding":{"y":{"datum":1.45},"y2":{"datum":3.0}}},
     {"mark":{"type":"text","baseline":"bottom","dy":-3,"fontSize":10,"color":"#333"},"encoding":{"y":{"field":"hi","type":"quantitative"},"text":{"field":"lab"}}},
     {"mark":{"type":"text","baseline":"bottom","dy":-14,"fontSize":9,"fontWeight":"bold","color":"#111"},"encoding":{"y":{"field":"hi","type":"quantitative"},"text":{"field":"sig"}}},
     {"transform":[{"filter":"datum.g=='WT'"}],"mark":{"type":"text","text":"Pou2f2(Oct2)","fontSize":15,"color":"#222","baseline":"middle","dx":9.5},"encoding":{"x":{"datum":"HSCⱽᴱ"},"y":{"datum":6.33}}}
    ]},
   {"width":138,"height":125,"data":{"name":"bars"},"transform":[{"filter":"datum.gene=='Mef2b'"}],
    "encoding":{"x":{"field":"g","type":"nominal","scale":{"domain":["WT","Bⱽᴱ","HSCⱽᴱ","BⱽᴱTrp53ᴷᴼ","BⱽᴱpTENᴷᴼ","Bⱽᴱp27ᴷᴼ"],"paddingInner":0.3,"paddingOuter":0.4},"axis":{"labels":false,"title":null,"tickSize":4}}},
    "layer":[
     {"mark":"bar","encoding":{"y":{"field":"v","type":"quantitative","scale":{"domain":[0,1.5],"nice":false},"axis":{"values":[0,0.5,1,1.5],"labelExpr":"datum.value==0?'0':format(datum.value,'.1f')","title":"Relative Fold Change","tickSize":4}},"color":{"field":"g","type":"nominal","scale":{"domain":["WT","Bⱽᴱ","HSCⱽᴱ","BⱽᴱTrp53ᴷᴼ","BⱽᴱpTENᴷᴼ","Bⱽᴱp27ᴷᴼ"],"range":["#8b8b8f","#fb6b6b","#b8843f","#fc1010","#a022e6","#167216"]}}}},
     {"transform":[{"filter":"datum.hi>datum.v"}],"mark":{"type":"rule","color":"#333","strokeWidth":1.2},"encoding":{"y":{"field":"v","type":"quantitative"},"y2":{"field":"hi"}}},
     {"transform":[{"filter":"datum.hi>datum.v"}],"mark":{"type":"tick","color":"#333","size":8,"thickness":1.2},"encoding":{"y":{"field":"hi","type":"quantitative"}}},
     {"mark":{"type":"text","baseline":"bottom","dy":-3,"fontSize":10,"color":"#333"},"encoding":{"y":{"field":"hi","type":"quantitative"},"text":{"field":"lab"}}},
     {"mark":{"type":"text","baseline":"bottom","dy":-14,"fontSize":9,"fontWeight":"bold","color":"#111"},"encoding":{"y":{"field":"hi","type":"quantitative"},"text":{"field":"sig"}}},
     {"transform":[{"filter":"datum.g=='WT'"}],"mark":{"type":"text","text":"Mef2b","fontSize":15,"color":"#222","baseline":"middle","dx":6},"encoding":{"x":{"datum":"HSCⱽᴱ"},"y":{"datum":1.33}}}
    ]}
 ],"spacing":15},
 {"hconcat":[
   {"width":142,"height":125,"data":{"name":"bars"},"transform":[{"filter":"datum.gene=='Mef2c'"}],
    "encoding":{"x":{"field":"g","type":"nominal","scale":{"domain":["WT","Bⱽᴱ","HSCⱽᴱ","BⱽᴱTrp53ᴷᴼ","BⱽᴱpTENᴷᴼ","Bⱽᴱp27ᴷᴼ"],"paddingInner":0.3,"paddingOuter":0.4},"axis":{"labels":false,"title":null,"tickSize":4}}},
    "layer":[
     {"mark":"bar","encoding":{"y":{"field":"v","type":"quantitative","scale":{"domain":[0,2],"nice":false},"axis":{"values":[0,0.5,1,1.5,2],"labelExpr":"datum.value==0?'0':format(datum.value,'.1f')","title":"Relative Fold Change","tickSize":4}},"color":{"field":"g","type":"nominal","scale":{"domain":["WT","Bⱽᴱ","HSCⱽᴱ","BⱽᴱTrp53ᴷᴼ","BⱽᴱpTENᴷᴼ","Bⱽᴱp27ᴷᴼ"],"range":["#8b8b8f","#fb6b6b","#b8843f","#fc1010","#a022e6","#167216"]}}}},
     {"transform":[{"filter":"datum.hi>datum.v"}],"mark":{"type":"rule","color":"#333","strokeWidth":1.2},"encoding":{"y":{"field":"v","type":"quantitative"},"y2":{"field":"hi"}}},
     {"transform":[{"filter":"datum.hi>datum.v"}],"mark":{"type":"tick","color":"#333","size":8,"thickness":1.2},"encoding":{"y":{"field":"hi","type":"quantitative"}}},
     {"mark":{"type":"text","baseline":"bottom","dy":-3,"fontSize":10,"color":"#333"},"encoding":{"y":{"field":"hi","type":"quantitative"},"text":{"field":"lab"}}},
     {"mark":{"type":"text","baseline":"bottom","dy":-14,"fontSize":9,"fontWeight":"bold","color":"#111"},"encoding":{"y":{"field":"hi","type":"quantitative"},"text":{"field":"sig"}}},
     {"transform":[{"filter":"datum.g=='WT'"}],"mark":{"type":"text","text":"Mef2c","fontSize":15,"color":"#222","baseline":"middle","dx":19.5},"encoding":{"x":{"datum":"HSCⱽᴱ"},"y":{"datum":1.87}}}
    ]},
   {"width":138,"height":125,"data":{"name":"bars"},"transform":[{"filter":"datum.gene=='Id3'"}],
    "encoding":{"x":{"field":"g","type":"nominal","scale":{"domain":["WT","Bⱽᴱ","HSCⱽᴱ","BⱽᴱTrp53ᴷᴼ","BⱽᴱpTENᴷᴼ","Bⱽᴱp27ᴷᴼ"],"paddingInner":0.3,"paddingOuter":0.4},"axis":{"labels":false,"title":null,"tickSize":4}}},
    "layer":[
     {"mark":"bar","encoding":{"y":{"field":"v","type":"quantitative","scale":{"domain":[0,2],"nice":false},"axis":{"values":[0,0.5,1,1.5,2],"labelExpr":"datum.value==0?'0':format(datum.value,'.1f')","title":"Relative Fold Change","tickSize":4}},"color":{"field":"g","type":"nominal","scale":{"domain":["WT","Bⱽᴱ","HSCⱽᴱ","BⱽᴱTrp53ᴷᴼ","BⱽᴱpTENᴷᴼ","Bⱽᴱp27ᴷᴼ"],"range":["#8b8b8f","#fb6b6b","#b8843f","#fc1010","#a022e6","#167216"]}}}},
     {"transform":[{"filter":"datum.hi>datum.v"}],"mark":{"type":"rule","color":"#333","strokeWidth":1.2},"encoding":{"y":{"field":"v","type":"quantitative"},"y2":{"field":"hi"}}},
     {"transform":[{"filter":"datum.hi>datum.v"}],"mark":{"type":"tick","color":"#333","size":8,"thickness":1.2},"encoding":{"y":{"field":"hi","type":"quantitative"}}},
     {"mark":{"type":"text","baseline":"bottom","dy":-3,"fontSize":10,"color":"#333"},"encoding":{"y":{"field":"hi","type":"quantitative"},"text":{"field":"lab"}}},
     {"mark":{"type":"text","baseline":"bottom","dy":-14,"fontSize":9,"fontWeight":"bold","color":"#111"},"encoding":{"y":{"field":"hi","type":"quantitative"},"text":{"field":"sig"}}},
     {"transform":[{"filter":"datum.g=='WT'"}],"mark":{"type":"text","text":"Id3","fontSize":15,"color":"#222","baseline":"middle","dx":-2},"encoding":{"x":{"datum":"HSCⱽᴱ"},"y":{"datum":1.84}}}
    ]}
 ],"spacing":15}
 ],"spacing":11}
]
}
